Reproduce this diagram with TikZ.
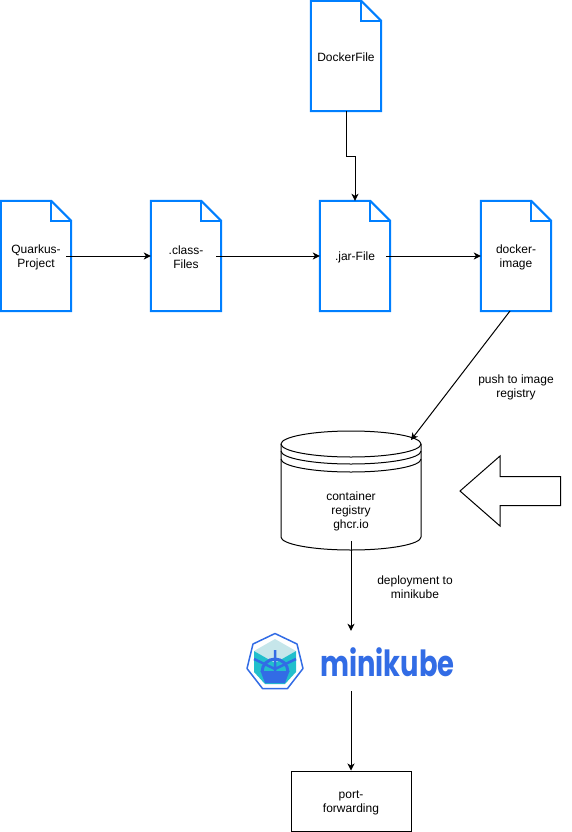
\documentclass[tikz,border=0pt]{standalone}
\usepackage{fontspec}
\setmainfont{Liberation Sans}
\newfontfamily\logofont{Poppins}
\usetikzlibrary{arrows.meta,calc}
\definecolor{docblue}{HTML}{007FFF}
\definecolor{kubeblue}{HTML}{326CE5}
\definecolor{kubeteal}{HTML}{22BFCC}
\definecolor{kubepale}{HTML}{C6E6EA}
\tikzset{
	docfile/.style={minimum width=70,minimum height=110,inner sep=0},
	docline/.style={draw=docblue,line width=2,line join=miter},
	flow/.style={line width=1,-{Stealth[length=7,width=7,inset=2]}},
	lbl/.style={inner sep=0,align=center,font=\fontsize{12}{14}\selectfont}
}
\begin{document}
\begin{tikzpicture}[x=1pt,y=-1pt]
	\useasboundingbox (0,0) rectangle (571,832);
	\node[docfile] (dockerfile) at (346,56) {};
	\node[lbl] (dockertext) at (346,57) {DockerFile};
	\node[docfile] (quarkus) at (36,256) {};
	\node[lbl] (quarkustext) at (36,257) {Quarkus-\\Project};
	\node[docfile] (classfiles) at (186,256) {};
	\node[lbl] (classtext) at (186,257) {.class-\\Files};
	\node[docfile] (jarfile) at (355,256) {};
	\node[lbl] (jartext) at (355,257) {.jar-File};
	\node[docfile] (dockerimage) at (516,256) {};
	\node[lbl] (imagetext) at (516,257) {docker-\\image};
	\foreach \n in {dockerfile,quarkus,classfiles,jarfile,dockerimage}{
		\draw[docline] (\n.north west) -- ($(\n.north east)+(-20,0)$) -- ($(\n.north east)+(0,20)$) -- (\n.south east) -- (\n.south west) -- cycle;
		\draw[docline] ($(\n.north east)+(-20,0)$) -- ++(0,20) -- ++(20,0);
	}
	\node[minimum width=140,minimum height=120,inner sep=0] (registry) at (351,491) {};
	\draw[line width=1] (281,444) arc[x radius=70,y radius=13,start angle=-180,end angle=0] -- (421,537) arc[x radius=70,y radius=13,start angle=0,end angle=180] -- cycle;
	\foreach \d in {0,7,15}
		\draw[line width=1] (281,444+\d) arc[x radius=70,y radius=13,start angle=180,end angle=0];
	\node[lbl] (registrytext) at (351,511) {container\\registry\\ghcr.io};
	\node[lbl] (pushlabel) at (516,387) {push to image\\registry};
	\node[lbl] (deploylabel) at (415,587) {deployment to\\minikube};
	\draw[line width=1,line join=miter] (460,491) -- (500,456) -- (500,476.5) -- (560.5,476.5) -- (560.5,505.5) -- (500,505.5) -- (500,526) -- cycle;
	\node[minimum width=210,minimum height=60,inner sep=0] (minikube) at (351,661) {};
	\node[inner sep=0,text=kubeblue,xscale=0.76,transform shape,font=\logofont\bfseries\fontsize{36}{36}\selectfont] (miniword) at (387.5,662) {minikube};
	\draw[kubeblue,line width=1.5,line join=round] (275,633.5) -- (297,644) -- (303,668.5) -- (287.5,688.5) -- (262.5,688.5) -- (247,668.5) -- (253,644) -- cycle;
	\fill[kubepale] (275,639) -- (296,651) -- (275,663) -- (254,651) -- cycle;
	\fill[kubeteal] (254,651) -- (275,663) -- (296,651) -- (296,672) -- (285,684) -- (265,684) -- (254,672) -- cycle;
	\draw[kubeblue,line width=3] (262,672) arc[radius=13,start angle=-180,end angle=0];
	\fill[kubeblue] (260.5,671) -- (289.5,671) -- (285,683) -- (265,683) -- cycle;
	\draw[kubeblue,line width=2.5] (275,650) -- (275,672) (254,659) -- (275,669) -- (296,659);
	\coordinate (imagefoot) at (510,311);
	\coordinate (registrytop) at (411,440);
	\coordinate (registryfoot) at (351,541);
	\coordinate (quarkusend) at (66,256);
	\coordinate (classend) at (216,256);
	\coordinate (jarend) at (386,256);
	\draw[flow] (dockerfile.south) -- ++(0,45) -| (jarfile.north);
	\draw[flow] (quarkusend) -- (classfiles.west);
	\draw[flow] (classend) -- (jarfile.west);
	\draw[flow] (jarend) -- (dockerimage.west);
	\draw[flow] (imagefoot) -- (registrytop);
	\draw[flow] (registryfoot) -- (minikube.north);
	\node[draw,line width=1,minimum width=120,minimum height=60,inner sep=0] (portfwd) at (351,801) {};
	\node[lbl] (portlabel) at (351,802.5) {port-\\forwarding};
	\draw[flow] (minikube.south) -- (portfwd.north);
\end{tikzpicture}
\end{document}
